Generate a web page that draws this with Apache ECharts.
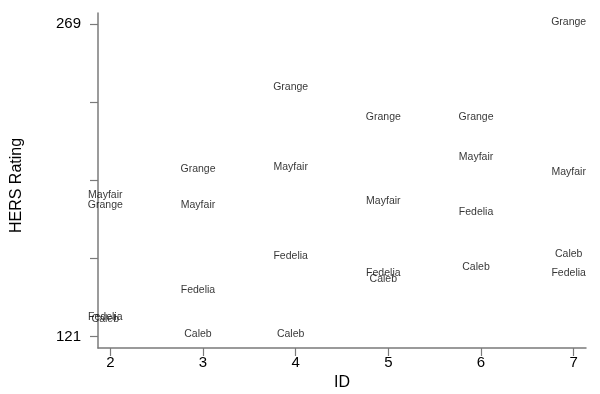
<!DOCTYPE html>
<html><head><meta charset="utf-8">
<script src="https://cdn.jsdelivr.net/npm/echarts@6/dist/echarts.min.js"></script>
<style>html,body{margin:0;padding:0;background:#fff}#c{width:600px;height:394px}</style>
</head><body><div id="c"></div>
<script>
var ids = [2, 3, 4, 5, 6, 7];
var grange  = [182, 199, 238, 224, 224, 269];
var mayfair = [187, 182, 200, 184, 205, 198];
var fedelia = [129, 142, 158, 150, 179, 150];
var caleb   = [128, 121, 121, 147, 153, 159];
var yTicks = [121, 158, 195, 232, 269];
var yTickLabels = [121, 269];
var xTicks = [2, 3, 4, 5, 6, 7];

var groups = [['Grange', grange], ['Mayfair', mayfair], ['Fedelia', fedelia], ['Caleb', caleb]];
var font = 'Liberation Sans, Arial, sans-serif';
var series = groups.map(function (g) {
  return {
    type: 'scatter', name: g[0], symbolSize: 0,
    data: ids.map(function (x, i) { return [x, g[1][i]]; }),
    label: { show: true, position: 'inside', offset: [-5, -2.5], formatter: g[0],
             color: '#000', fontFamily: font, fontSize: 10.5 },
    emphasis: { disabled: true }
  };
});
var axisColor = '#7a7a7a';
var chart = echarts.init(document.getElementById('c'), null, { renderer: 'canvas' });
chart.setOption({
  animation: false,
  backgroundColor: '#fff',
  grid: { left: 98, right: 14, top: 13, bottom: 46, containLabel: false, outerBoundsMode: 'none' },
  xAxis: {
    type: 'value', min: 1.867, max: 7.133,
    name: 'ID', nameLocation: 'middle', nameGap: 20,
    nameTextStyle: { color: '#000', fontFamily: font, fontSize: 16 },
    splitLine: { show: false },
    axisLine: { show: true, onZero: false, lineStyle: { color: axisColor, width: 1.5 } },
    axisTick: { show: true, length: 8, customValues: xTicks, lineStyle: { color: axisColor, width: 1.2 } },
    axisLabel: { customValues: xTicks, color: '#000', fontFamily: font, fontSize: 15, margin: 7 }
  },
  yAxis: {
    type: 'value', min: 115.66, max: 274.34,
    name: 'HERS Rating', nameLocation: 'middle', nameGap: 73, nameRotate: 90,
    nameTextStyle: { color: '#000', fontFamily: font, fontSize: 16, padding: [0, 10, 0, 0] },
    splitLine: { show: false },
    axisLine: { show: true, onZero: false, lineStyle: { color: axisColor, width: 1.5 } },
    axisTick: { show: true, length: 8, customValues: yTicks, lineStyle: { color: axisColor, width: 1.2 } },
    axisLabel: { customValues: yTickLabels, color: '#000', fontFamily: font, fontSize: 15, margin: 17 }
  },
  series: series
});
</script></body></html>
